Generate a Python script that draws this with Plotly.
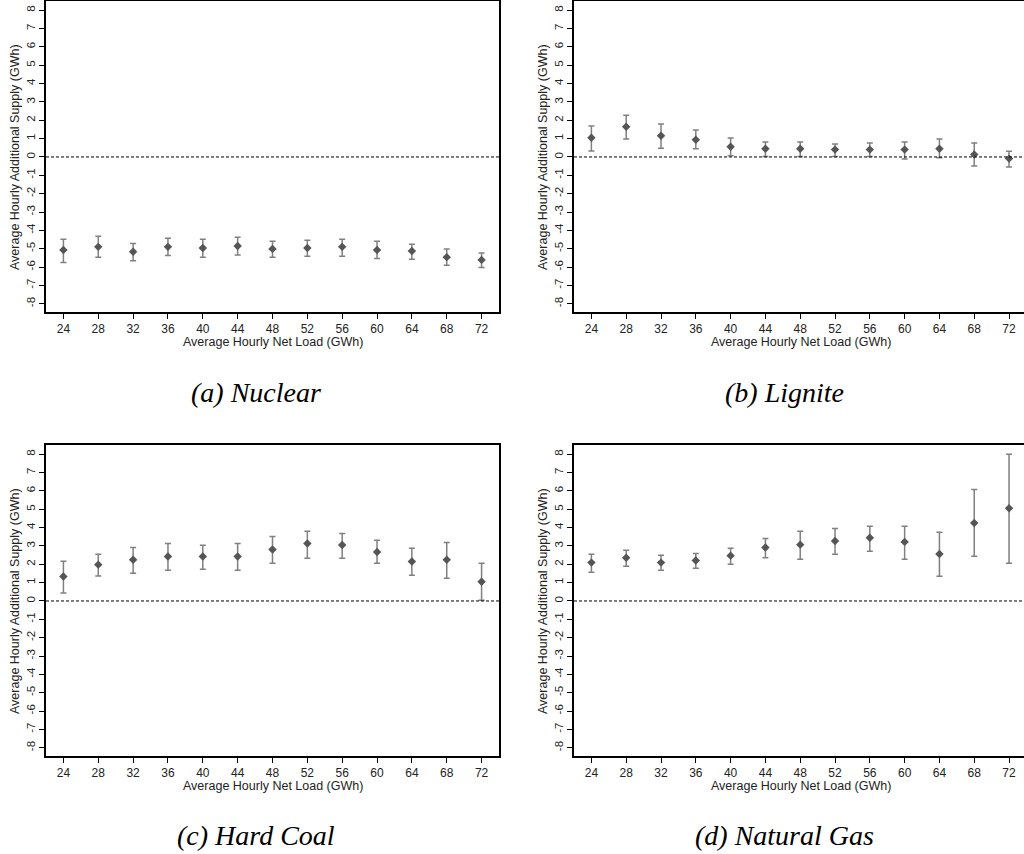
import plotly.graph_objects as go

# Average hourly net load bins (GWh)
net_load = [24, 28, 32, 36, 40, 44, 48, 52, 56, 60, 64, 68, 72]
x_ticks = [24, 28, 32, 36, 40, 44, 48, 52, 56, 60, 64, 68, 72]
y_ticks = [-8, -7, -6, -5, -4, -3, -2, -1, 0, 1, 2, 3, 4, 5, 6, 7, 8]
y_tick_text = [str(v) for v in y_ticks]

# Point estimates with upper / lower confidence bounds (GWh)
nuclear_est = [-5.07, -4.90, -5.17, -4.90, -4.96, -4.85, -5.01, -4.96, -4.90, -5.07, -5.12, -5.46, -5.61]
nuclear_hi = [-4.48, -4.32, -4.72, -4.43, -4.48, -4.38, -4.60, -4.54, -4.48, -4.60, -4.76, -5.01, -5.24]
nuclear_lo = [-5.75, -5.46, -5.65, -5.37, -5.46, -5.34, -5.46, -5.41, -5.41, -5.54, -5.57, -5.90, -6.03]

lignite_est = [1.05, 1.65, 1.16, 0.94, 0.56, 0.45, 0.45, 0.40, 0.40, 0.40, 0.45, 0.13, -0.09]
lignite_hi = [1.69, 2.28, 1.79, 1.47, 1.03, 0.81, 0.81, 0.71, 0.76, 0.81, 0.98, 0.76, 0.31]
lignite_lo = [0.32, 0.98, 0.47, 0.45, 0.07, 0.02, 0.03, 0.02, 0.02, -0.11, -0.04, -0.49, -0.55]

hardcoal_est = [1.33, 1.98, 2.25, 2.42, 2.42, 2.42, 2.80, 3.13, 3.05, 2.67, 2.15, 2.25, 1.05]
hardcoal_hi = [2.16, 2.55, 2.91, 3.13, 3.04, 3.13, 3.51, 3.80, 3.67, 3.31, 2.87, 3.18, 2.05]
hardcoal_lo = [0.44, 1.36, 1.51, 1.67, 1.73, 1.67, 2.05, 2.33, 2.33, 2.05, 1.40, 1.24, 0.04]

gas_est = [2.09, 2.36, 2.09, 2.20, 2.47, 2.91, 3.07, 3.27, 3.44, 3.22, 2.56, 4.25, 5.05]
gas_hi = [2.55, 2.76, 2.49, 2.58, 2.87, 3.40, 3.80, 3.95, 4.07, 4.07, 3.75, 6.07, 8.00]
gas_lo = [1.56, 1.89, 1.67, 1.78, 2.00, 2.35, 2.27, 2.55, 2.71, 2.27, 1.35, 2.44, 2.05]

captions = ["(a) Nuclear", "(b) Lignite", "(c) Hard Coal", "(d) Natural Gas"]
x_title = "Average Hourly Net Load (GWh)"
y_title = "Average Hourly Additional Supply (GWh)"

W, H = 1024, 854

# panel geometry in pixels: left, right, top, bottom, x-range end, right border, caption centre
panels = [
    dict(l=46, r=499, t=1, b=312, xmax=74.0, mirror=True, cap_x=256, cap_y=393),
    dict(l=574, r=1024, t=1, b=312, xmax=73.72, mirror=False, cap_x=784, cap_y=393),
    dict(l=46, r=499, t=445, b=756, xmax=74.0, mirror=True, cap_x=256, cap_y=835),
    dict(l=574, r=1024, t=445, b=756, xmax=73.72, mirror=False, cap_x=784, cap_y=835),
]
series = [
    (nuclear_est, nuclear_hi, nuclear_lo),
    (lignite_est, lignite_hi, lignite_lo),
    (hardcoal_est, hardcoal_hi, hardcoal_lo),
    (gas_est, gas_hi, gas_lo),
]

fig = go.Figure()
tick_font = dict(family="Liberation Sans, Arial, sans-serif", size=12, color="#222")
title_font = dict(family="Liberation Sans, Arial, sans-serif", size=12.5, color="#222")

annotations = []
shapes = []
for i, (p, (est, hi, lo)) in enumerate(zip(panels, series)):
    n = "" if i == 0 else str(i + 1)
    xa, ya = "x" + n, "y" + n
    plus = [h - e for h, e in zip(hi, est)]
    minus = [e - l for e, l in zip(est, lo)]
    fig.add_trace(go.Scatter(
        x=net_load, y=est, mode="markers", xaxis=xa, yaxis=ya,
        marker=dict(symbol="diamond", size=6.5, color="#555555"),
        error_y=dict(type="data", symmetric=False, array=plus, arrayminus=minus,
                     color="#808080", thickness=1.5, width=3),
        showlegend=False, hoverinfo="x+y",
    ))
    xdom = [p["l"] / W, min(p["r"] / W, 1.0)]
    ydom = [1 - p["b"] / H, 1 - p["t"] / H]
    fig.update_layout(**{
        "xaxis" + n: dict(domain=xdom, range=[22, p["xmax"]], anchor=ya,
                          tickvals=x_ticks, ticks="outside", ticklen=5, tickcolor="black",
                          showline=True, linecolor="black", linewidth=1.5, mirror=True,
                          showgrid=False, zeroline=False, tickfont=tick_font),
        "yaxis" + n: dict(domain=ydom, range=[-8.45, 8.5], anchor=xa,
                          tickvals=y_ticks, ticktext=y_tick_text, ticks="outside",
                          ticklen=5, tickcolor="black", tickangle=-90,
                          showline=True, linecolor="black", linewidth=1.5,
                          mirror=p["mirror"], showgrid=False, zeroline=False,
                          tickfont=dict(tick_font, size=11.5)),
    })
    # dashed reference line at zero
    shapes.append(dict(type="line", xref=xa + " domain", yref=ya, x0=0, x1=1, y0=0, y1=0,
                       line=dict(color="black", width=1, dash="3px,2px")))
    # axis titles
    annotations.append(dict(text=x_title, xref="paper", yref="paper",
                            x=(p["l"] + 227) / W, y=1 - (p["t"] + 341) / H,
                            xanchor="center", yanchor="middle", showarrow=False,
                            font=title_font))
    annotations.append(dict(text=y_title, xref="paper", yref="paper",
                            x=(p["l"] - 31) / W, y=1 - (p["t"] + 156) / H,
                            xanchor="center", yanchor="middle", textangle=-90,
                            showarrow=False, font=title_font))
    annotations.append(dict(text="<i>" + captions[i] + "</i>", xref="paper", yref="paper",
                            x=p["cap_x"] / W, y=1 - p["cap_y"] / H,
                            xanchor="center", yanchor="middle", showarrow=False,
                            font=dict(family="Liberation Serif, Times New Roman, serif",
                                      size=28, color="black")))

fig.update_layout(width=W, height=H, margin=dict(l=0, r=0, t=0, b=0),
                  paper_bgcolor="white", plot_bgcolor="white",
                  annotations=annotations, shapes=shapes)

fig.write_html("out.html")
